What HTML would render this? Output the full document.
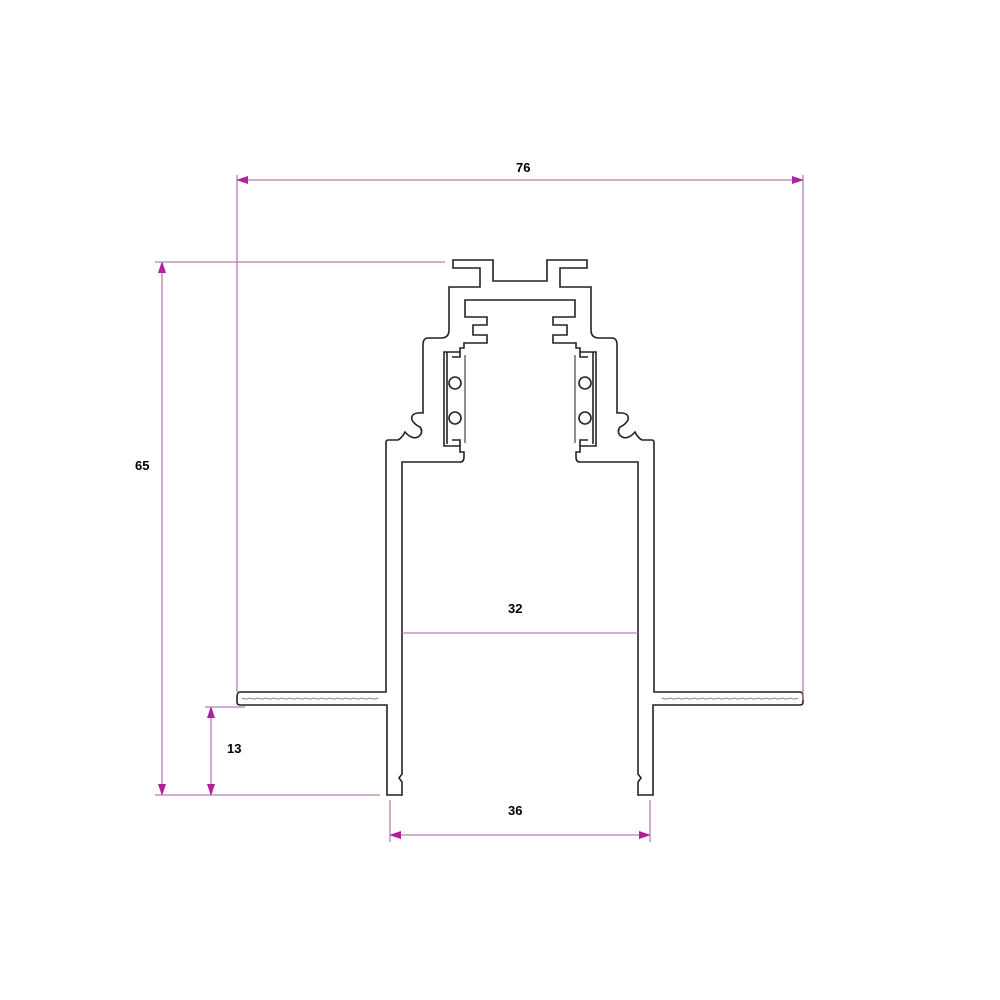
<!DOCTYPE html>
<html><head><style>body{margin:0;background:#fff}svg{display:block}text{font-family:"Liberation Sans",sans-serif;font-weight:bold;font-size:13px;fill:#000}</style></head>
<body>
<svg width="1000" height="1000" viewBox="0 0 1000 1000">
<defs>
<marker id="a" markerWidth="12" markerHeight="8" refX="11" refY="4" orient="auto-start-reverse" markerUnits="userSpaceOnUse"><path d="M0,0 L12,4 L0,8 z" fill="#b0209a"/></marker>
<g id="half" fill="none" stroke="#222" stroke-width="1.6">
<path d="M520,281 L493,281 L493,260 L453,260 L453,268 L480,268 L480,287 L449,287 L449,330 Q449,338 441,338 L428,338 Q423,338 423,345 L423,413 Q410,412 412,420 Q415,425 420,427 Q424,433 418,437 Q412,440 405,432 Q402,438 398,440 L388,440 Q386,440 386,443 L386,692 L240,692 Q237,692 237,697 L237,702 Q237,705 240,705 L387,705 L387,795 L402,795 L402,782 L399,778 L402,774 L402,462 L460,462 Q464,462 464,457 L464,452 L460,452 L460,446 L444,446 L444,352 L460,352 L460,348 L464,348 L464,343 L487,343 L487,335 L473,335 L473,325 L487,325 L487,317 L465,317 L465,300 L520,300"/>
<path d="M447,352 L447,444 M452,440 L460,440 L460,446 M452,357 L460,357 L460,352"/>
<circle cx="455" cy="383" r="6"/>
<circle cx="455" cy="418" r="6"/>
<path d="M465,355 L465,443" stroke-width="1"/>
<path d="M242,698 Q246,700 250,698 Q254,700 258,698 Q262,700 266,698 Q270,700 274,698 Q278,700 282,698 Q286,700 290,698 Q294,700 298,698 Q302,700 306,698 Q310,700 314,698 Q318,700 322,698 Q326,700 330,698 Q334,700 338,698 Q342,700 346,698 Q350,700 354,698 Q358,700 362,698 Q366,700 370,698 Q374,700 378,698" stroke="#888" stroke-width="1"/>
</g>
</defs>
<use href="#half"/>
<use href="#half" transform="translate(1040,0) scale(-1,1)"/>
<g stroke="#b77fb0" stroke-width="1.3" fill="none">
<line x1="237" y1="180" x2="803" y2="180" marker-start="url(#a)" marker-end="url(#a)"/>
<line x1="237" y1="175" x2="237" y2="692"/>
<line x1="803" y1="175" x2="803" y2="700"/>
<line x1="162" y1="262" x2="162" y2="795" marker-start="url(#a)" marker-end="url(#a)"/>
<line x1="155" y1="262" x2="445" y2="262"/>
<line x1="155" y1="795" x2="380" y2="795"/>
<line x1="211" y1="707" x2="211" y2="795" marker-start="url(#a)" marker-end="url(#a)"/>
<line x1="205" y1="707" x2="245" y2="707"/>
<line x1="402" y1="633" x2="638" y2="633"/>
<line x1="390" y1="835" x2="650" y2="835" marker-start="url(#a)" marker-end="url(#a)"/>
<line x1="390" y1="800" x2="390" y2="842"/>
<line x1="650" y1="800" x2="650" y2="842"/>
</g>
<text x="516" y="172">76</text>
<text x="135" y="470">65</text>
<text x="227" y="753">13</text>
<text x="508" y="613">32</text>
<text x="508" y="815">36</text>
</svg>
</body></html>
